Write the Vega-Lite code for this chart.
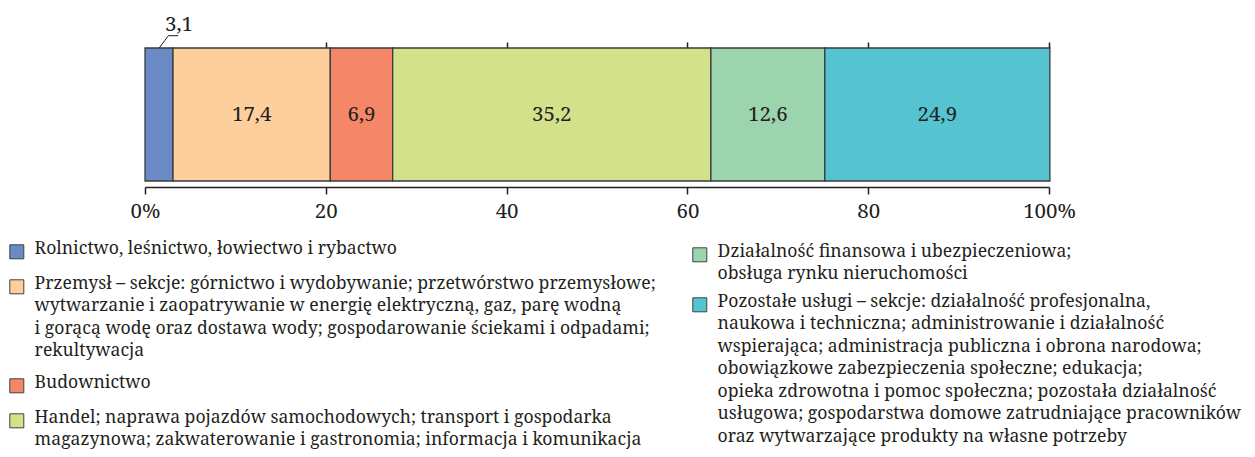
{
  "$schema": "https://vega.github.io/schema/vega-lite/v6.json",
  "width": 904,
  "height": 133,
  "autosize": {"type": "none"},
  "padding": {"left": 145, "top": 48, "right": 206, "bottom": 276},
  "background": "white",
  "datasets": {
    "shares": [
      {"sector": "Rolnictwo, leśnictwo, łowiectwo i rybactwo", "share": 3.1, "order": 1, "group": "A"},
      {"sector": "Przemysł – sekcje: górnictwo i wydobywanie; przetwórstwo przemysłowe;\nwytwarzanie i zaopatrywanie  w energię elektryczną, gaz, parę wodną\ni gorącą wodę oraz dostawa wody; gospodarowanie ściekami i odpadami;\nrekultywacja", "share": 17.4, "order": 2, "group": "A"},
      {"sector": "Budownictwo", "share": 6.9, "order": 3, "group": "A"},
      {"sector": "Handel; naprawa pojazdów samochodowych; transport i gospodarka\nmagazynowa; zakwaterowanie i gastronomia; informacja i komunikacja", "share": 35.2, "order": 4, "group": "A"},
      {"sector": "Działalność finansowa i ubezpieczeniowa;\nobsługa rynku nieruchomości", "share": 12.6, "order": 5, "group": "B"},
      {"sector": "Pozostałe usługi – sekcje: działalność profesjonalna,\nnaukowa i techniczna; administrowanie i działalność\nwspierająca; administracja publiczna i obrona narodowa;\nobowiązkowe zabezpieczenia społeczne; edukacja;\nopieka zdrowotna i pomoc społeczna; pozostała działalność\nusługowa; gospodarstwa domowe zatrudniające pracowników\noraz wytwarzające produkty na własne potrzeby", "share": 24.9, "order": 6, "group": "B"}
    ],
    "leader": [
      {"x": 1.58, "y": 1.0},
      {"x": 2.58, "y": 1.0925},
      {"x": 3.68, "y": 1.0925}
    ]
  },
  "layer": [
    {
      "data": {"name": "shares"},
      "transform": [
        {"stack": "share", "groupby": [], "sort": [{"field": "order"}], "as": ["x0", "x1"]},
        {"filter": "datum.group === 'A'"}
      ],
      "mark": {"type": "bar", "stroke": "#3a3a3a", "strokeWidth": 1.3},
      "encoding": {
        "x": {
          "field": "x0", "type": "quantitative",
          "scale": {"domain": [0, 100], "nice": false},
          "axis": {
            "orient": "bottom", "offset": 6, "values": [0, 20, 40, 60, 80, 100],
            "tickSize": 7, "tickWidth": 1.5, "tickColor": "#231f20",
            "domainColor": "#231f20", "domainWidth": 1.5,
            "labelExpr": "datum.value == 0 || datum.value == 100 ? datum.label + '%' : datum.label",
            "labelFont": "Noto Serif", "labelFontSize": 20.5, "labelColor": "#231f20",
            "labelPadding": 19, "labelFlush": false, "labelOverlap": false, "labelBound": false,
            "grid": false, "title": null
          }
        },
        "x2": {"field": "x1"},
        "y": {"datum": 0, "type": "quantitative", "scale": {"domain": [0, 1], "nice": false}, "axis": null},
        "y2": {"datum": 1},
        "color": {
          "field": "sector", "type": "nominal",
          "scale": {
            "domain": [
              "Rolnictwo, leśnictwo, łowiectwo i rybactwo",
              "Przemysł – sekcje: górnictwo i wydobywanie; przetwórstwo przemysłowe;\nwytwarzanie i zaopatrywanie  w energię elektryczną, gaz, parę wodną\ni gorącą wodę oraz dostawa wody; gospodarowanie ściekami i odpadami;\nrekultywacja",
              "Budownictwo",
              "Handel; naprawa pojazdów samochodowych; transport i gospodarka\nmagazynowa; zakwaterowanie i gastronomia; informacja i komunikacja"
            ],
            "range": ["#6a8ac6", "#fdcf9d", "#f48768", "#d4e18b"]
          },
          "legend": {
            "orient": "none", "legendX": -137, "legendY": 195, "title": null, "direction": "vertical",
            "symbolType": "square", "symbolSize": 196, "symbolStrokeColor": "#404040", "symbolStrokeWidth": 1,
            "labelFont": "Noto Serif", "labelFontSize": 17.6, "labelColor": "#231f20",
            "labelLimit": 900, "labelOffset": 9, "rowPadding": 13, "labelBaseline": "top", "padding": 0
          }
        }
      }
    },
    {
      "data": {"name": "shares"},
      "transform": [
        {"stack": "share", "groupby": [], "sort": [{"field": "order"}], "as": ["x0", "x1"]},
        {"filter": "datum.group === 'B'"}
      ],
      "mark": {"type": "bar", "stroke": "#3a3a3a", "strokeWidth": 1.3},
      "encoding": {
        "x": {"field": "x0", "type": "quantitative", "axis": null},
        "x2": {"field": "x1"},
        "y": {"datum": 0, "type": "quantitative", "axis": null},
        "y2": {"datum": 1},
        "color": {
          "field": "sector", "type": "nominal",
          "scale": {
            "domain": [
              "Działalność finansowa i ubezpieczeniowa;\nobsługa rynku nieruchomości",
              "Pozostałe usługi – sekcje: działalność profesjonalna,\nnaukowa i techniczna; administrowanie i działalność\nwspierająca; administracja publiczna i obrona narodowa;\nobowiązkowe zabezpieczenia społeczne; edukacja;\nopieka zdrowotna i pomoc społeczna; pozostała działalność\nusługowa; gospodarstwa domowe zatrudniające pracowników\noraz wytwarzające produkty na własne potrzeby"
            ],
            "range": ["#9cd4ae", "#56c4d0"]
          },
          "legend": {
            "orient": "none", "legendX": 546, "legendY": 198, "title": null, "direction": "vertical",
            "symbolType": "square", "symbolSize": 196, "symbolStrokeColor": "#404040", "symbolStrokeWidth": 1,
            "labelFont": "Noto Serif", "labelFontSize": 17.6, "labelColor": "#231f20",
            "labelLimit": 900, "labelOffset": 9, "rowPadding": 9, "labelBaseline": "top", "padding": 0
          }
        }
      }
    },
    {
      "data": {"name": "shares"},
      "transform": [
        {"stack": "share", "groupby": [], "sort": [{"field": "order"}], "as": ["x0", "x1"]},
        {"filter": "datum.share > 5"},
        {"calculate": "(datum.x0 + datum.x1) / 2", "as": "xm"}
      ],
      "mark": {"type": "text", "font": "Noto Serif", "fontSize": 20.5, "color": "#231f20", "baseline": "middle", "align": "center"},
      "encoding": {
        "x": {"field": "xm", "type": "quantitative", "axis": null},
        "y": {"datum": 0.5, "type": "quantitative", "axis": null},
        "text": {"field": "share", "type": "quantitative", "format": ".1f"}
      }
    },
    {
      "data": {"name": "shares"},
      "transform": [
        {"stack": "share", "groupby": [], "sort": [{"field": "order"}], "as": ["x0", "x1"]},
        {"filter": "datum.order == 1"}
      ],
      "mark": {"type": "text", "font": "Noto Serif", "fontSize": 20.5, "color": "#231f20", "baseline": "middle", "align": "center", "dx": 6, "dy": -23},
      "encoding": {
        "x": {"field": "x1", "type": "quantitative", "axis": null},
        "y": {"datum": 1, "type": "quantitative", "axis": null},
        "text": {"field": "share", "type": "quantitative", "format": ".1f"}
      }
    },
    {
      "data": {"name": "leader"},
      "mark": {"type": "line", "color": "#231f20", "strokeWidth": 1, "clip": false},
      "encoding": {
        "x": {
          "field": "x", "type": "quantitative",
          "axis": {
            "orient": "top", "values": [20, 40, 60, 80, 100], "tickSize": 6, "tickWidth": 1.5,
            "tickColor": "#231f20", "domain": false, "labels": false, "grid": false, "title": null
          }
        },
        "y": {"field": "y", "type": "quantitative", "axis": null}
      }
    }
  ],
  "resolve": {"scale": {"color": "independent"}, "legend": {"color": "independent"}},
  "config": {
    "view": {"stroke": null},
    "locale": {"number": {"decimal": ",", "thousands": " ", "grouping": [3], "currency": ["", " zł"]}},
    "style": {"guide-label": {"lineBreak": "\n", "lineHeight": 22.5, "dy": -12}}
  }
}
